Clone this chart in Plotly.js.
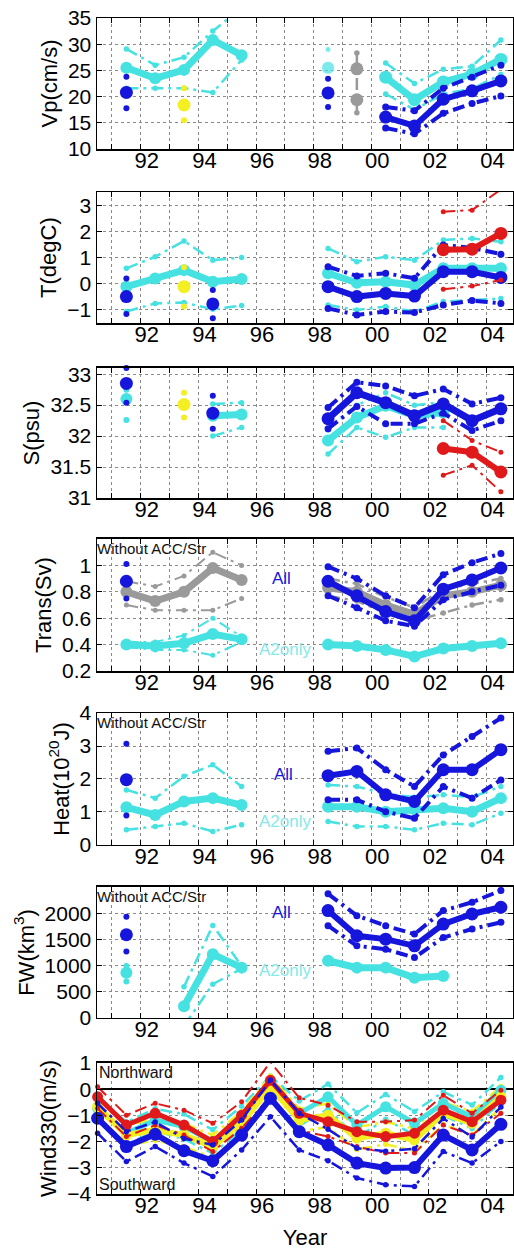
<!DOCTYPE html>
<html><head><meta charset="utf-8">
<script src="https://cdn.plot.ly/plotly-3.0.1.min.js"></script>
<style>html,body{margin:0;padding:0;background:#fff}#chart{width:514px;height:1250px}</style>
</head><body><div id="chart"></div>
<script>
// ---------- shared x values (decimal years) ----------
const yrsEarly = [1991.5, 1992.5, 1993.5, 1994.5, 1995.5];
const yrsLate = [1998.5, 1999.5, 2000.5, 2001.5, 2002.5, 2003.5, 2004.5];
const yrsLate5 = [2000.5, 2001.5, 2002.5, 2003.5, 2004.5];
const yrsCyanLate = [1998.5, 1999.5, 2000.5, 2001.5, 2002.5];
const yrsRed = [2002.5, 2003.5, 2004.5];
const yrsWind = [1990.5, 1991.5, 1992.5, 1993.5, 1994.5, 1995.5, 1996.5, 1997.5, 1998.5, 1999.5, 2000.5, 2001.5, 2002.5, 2003.5, 2004.5];
const xTickVals = [1991, 1992, 1993, 1994, 1995, 1996, 1997, 1998, 1999, 2000, 2001, 2002, 2003, 2004];
const xTickText = ['', '92', '', '94', '', '96', '', '98', '', '00', '', '02', '', '04'];

// ---------- panel 1: Vp ----------
const vpCyanEarly = [25.5, 23.5, 25.1, 30.8, 27.9];
const vpCyanEarlyHi = [29.1, 26.0, 27.5, 32.5, 37.0];
const vpCyanEarlyLo = [21.6, 21.6, 21.6, 20.8, 27.0];
const vpBlue91 = [20.8, 23.8, 17.8];      // value, hi, lo
const vpYellow93 = [18.4, 21.6, 15.5];
const vpCyan98 = [25.5, 29.0];
const vpBlue98 = [20.7, 23.4, 18.0];
const vpGray99 = [25.3, 19.4, 28.3, 16.9];
const vpBlueLate = [16.1, 14.4, 19.5, 21.1, 23.0];
const vpBlueLateHi = [18.0, 17.3, 21.6, 23.7, 26.0];
const vpBlueLateLo = [14.0, 12.9, 16.8, 18.7, 20.1];
const vpCyanLate = [23.7, 19.4, 22.8, 24.3, 27.1];
const vpCyanLateHi = [26.4, 22.5, 25.2, 25.8, 30.8];
const vpCyanLateLo = [20.5, 17.5, 20.5, 21.5, 24.2];

// ---------- panel 2: T ----------
const tCyanEarly = [-0.11, 0.2, 0.52, 0.08, 0.18];
const tCyanEarlyHi = [0.59, 1.03, 1.63, 0.9, 1.0];
const tCyanEarlyLo = [-1.06, -0.75, -0.72, -0.97, -0.83];
const tBlue91 = [-0.49, 0.2, -1.15];
const tYellow93 = [-0.11, 0.63, -0.87];
const tBlue94 = [-0.77, -0.24, -1.32];
const tBlueLate = [-0.11, -0.49, -0.37, -0.47, 0.46, 0.46, 0.24];
const tBlueLateHi = [0.65, 0.3, 0.4, 0.21, 1.48, 1.37, 1.13];
const tBlueLateLo = [-0.94, -1.19, -1.06, -1.1, -0.81, -0.64, -0.75];
const tCyanLate = [0.4, 0.04, 0.08, -0.05, 0.59, 0.59, 0.59];
const tCyanLateHi = [1.35, 0.84, 1.03, 0.9, 1.67, 1.73, 1.6];
const tCyanLateLo = [-0.81, -1.0, -0.87, -1.06, -0.68, -0.62, -0.56];
const tRed = [1.3, 1.32, 1.92];
const tRedHi = [2.75, 2.81, 3.6];
const tRedLo = [-0.21, -0.09, 0.14];

// ---------- panel 3: S ----------
const sBlue91 = [32.85, 33.1, 32.54];
const sCyan91 = [32.6, 32.75, 32.26];
const sYellow93 = [32.51, 32.7, 32.3];
const sBlue94 = [32.37, 32.65, 32.12];
const yrsSCyanEarly = [1994.5, 1995.5];
const sCyanEarly = [32.33, 32.35];
const sCyanEarlyHi = [32.52, 32.54];
const sCyanEarlyLo = [32.0, 32.14];
const sBlueLate = [32.28, 32.7, 32.54, 32.33, 32.52, 32.25, 32.44];
const sBlueLateHi = [32.46, 32.87, 32.81, 32.65, 32.76, 32.52, 32.62];
const sBlueLateLo = [32.12, 32.48, 32.2, 32.2, 32.37, 32.09, 32.25];
const sCyanLate = [31.93, 32.3, 32.49, 32.33, 32.38];
const sCyanLateHi = [32.1, 32.5, 32.7, 32.5, 32.55];
const sCyanLateLo = [31.71, 32.14, 31.98, 32.14, 32.14];
const sRed = [31.8, 31.74, 31.42];
const sRedHi = [32.25, 31.93, 31.74];
const sRedLo = [31.37, 31.53, 31.1];

// ---------- panel 4: Trans ----------
const trGrayEarly = [0.8, 0.73, 0.8, 0.98, 0.89];
const trGrayEarlyHi = [0.88, 0.84, 0.92, 1.1, 1.0];
const trGrayEarlyLo = [0.7, 0.66, 0.66, 0.66, 0.75];
const trBlue91 = [0.88, 1.01, 0.75];
const trCyanEarly = [0.4, 0.39, 0.41, 0.48, 0.44];
const trCyanEarlyHi = [0.42, 0.42, 0.47, 0.6, 0.46];
const trCyanEarlyLo = [0.38, 0.36, 0.36, 0.32, 0.42];
const trBlueLate = [0.88, 0.77, 0.65, 0.58, 0.82, 0.89, 0.98];
const trBlueLateHi = [0.99, 0.9, 0.77, 0.68, 0.93, 1.02, 1.09];
const trBlueLateLo = [0.77, 0.68, 0.58, 0.54, 0.74, 0.8, 0.85];
const trGrayLate = [0.83, 0.8, 0.7, 0.63, 0.77, 0.8, 0.85];
const trGrayLateHi = [0.9, 0.86, 0.76, 0.68, 0.82, 0.86, 0.9];
const trGrayLateLo = [0.77, 0.73, 0.64, 0.58, 0.64, 0.7, 0.74];
const trCyanLate = [0.4, 0.39, 0.36, 0.31, 0.37, 0.39, 0.41];

// ---------- panel 5: Heat ----------
const hBlue91 = [1.98, 3.07, 0.89];
const hCyanEarly = [1.14, 0.91, 1.32, 1.42, 1.21];
const hCyanEarlyHi = [1.67, 1.42, 2.08, 2.43, 1.77];
const hCyanEarlyLo = [0.46, 0.56, 0.66, 0.41, 0.61];
const hBlueLate = [2.1, 2.23, 1.52, 1.32, 2.28, 2.28, 2.89];
const hBlueLateHi = [2.84, 2.94, 2.28, 1.77, 2.73, 3.29, 3.85];
const hBlueLateLo = [1.37, 1.37, 1.01, 0.81, 1.77, 1.42, 1.97];
const hCyanLate = [1.16, 1.16, 1.01, 1.08, 1.11, 1.01, 1.42];
const hCyanLateHi = [1.82, 1.77, 1.55, 1.45, 1.52, 1.45, 1.77];
const hCyanLateLo = [0.71, 0.56, 0.56, 0.46, 0.66, 0.61, 0.96];

// ---------- panel 6: FW ----------
const fwBlue91 = [1600, 1948, 1278];
const fwCyan91 = [871, 1000, 700];
const yrsFwCyanEarly = [1993.5, 1994.5, 1995.5];
const fwCyanEarly = [226, 1226, 968];
const fwCyanEarlyHi = [600, 1780, 1000];
const fwCyanEarlyLo = [-150, 650, 950];
const fwBlueLate = [2065, 1581, 1516, 1387, 1806, 2000, 2129];
const fwBlueLateHi = [2387, 1968, 1774, 1613, 2065, 2226, 2452];
const fwBlueLateLo = [1774, 1387, 1323, 1161, 1548, 1710, 1839];
const fwCyanLate = [1100, 968, 968, 774, 806];

// ---------- panel 7: Wind330 ----------
const wBlue = [-1.11, -2.19, -1.72, -2.35, -2.73, -1.75, -0.35, -1.62, -2.13, -2.82, -3.01, -2.99, -1.75, -2.32, -1.34];
const wBlueLo = [-1.68, -2.76, -2.19, -2.82, -3.33, -2.32, -1.05, -2.32, -2.73, -3.39, -3.65, -3.71, -2.38, -2.82, -2.0];
const wBlueHi = [-0.54, -1.62, -1.25, -1.88, -2.13, -1.18, 0.35, -0.92, -1.53, -2.25, -2.37, -2.27, -1.12, -1.82, -0.68];
const wRed = [-0.29, -1.37, -0.92, -1.37, -2.0, -0.99, 0.34, -0.92, -1.24, -1.62, -1.81, -1.68, -0.8, -1.24, -0.42];
const wRedHi = [0.09, -0.99, -0.54, -0.8, -1.3, -0.48, 1.04, -0.33, -0.61, -1.24, -1.24, -1.18, -0.23, -0.92, -0.04];
const wRedLo = [-0.73, -1.81, -1.37, -1.75, -2.38, -1.49, -0.29, -1.56, -1.81, -2.19, -2.44, -2.44, -1.37, -1.75, -0.92];
const wYellow = [-0.67, -1.75, -1.56, -1.75, -2.19, -1.3, 0.09, -1.18, -0.99, -1.87, -1.68, -1.94, -0.92, -1.3, -0.29];
const wYellowHi = [-0.25, -1.35, -1.15, -1.3, -1.75, -0.85, 0.5, -0.75, -0.55, -1.45, -1.25, -1.5, -0.5, -0.85, 0.1];
const wYellowLo = [-1.1, -2.15, -1.95, -2.2, -2.6, -1.75, -0.35, -1.6, -1.45, -2.3, -2.1, -2.35, -1.35, -1.75, -0.7];
const wCyan = [-0.73, -1.68, -1.18, -1.43, -2.0, -1.11, 0.03, -0.92, -0.29, -1.37, -0.67, -1.3, -0.54, -1.05, -0.04];
const wCyanHi = [-0.3, -1.25, -0.75, -0.95, -1.55, -0.65, 0.5, -0.45, 0.2, -0.9, -0.2, -0.85, -0.1, -0.6, 0.45];
const wCyanLo = [-1.15, -2.1, -1.6, -1.9, -2.45, -1.55, -0.45, -1.4, -0.75, -1.85, -1.15, -1.75, -1.0, -1.5, -0.5];

// ---------- axis labels ----------
const yTitles = ['Vp(cm/s)', 'T(degC)', 'S(psu)', 'Trans(Sv)', 'Heat(10<sup>20</sup>J)', 'FW(km<sup>3</sup>)', 'Wind330(m/s)'];
const yRanges = [[10, 35], [-1.5, 3.5], [31, 33.1], [0.2, 1.2], [0, 4], [0, 2520], [-4, 1]];
const yTickVals = [
  [10, 15, 20, 25, 30, 35], [-1, 0, 1, 2, 3], [31, 31.5, 32, 32.5, 33],
  [0.2, 0.4, 0.6, 0.8, 1], [0, 1, 2, 3, 4], [0, 500, 1000, 1500, 2000], [-4, -3, -2, -1, 0, 1]];
const yTickText = [
  ['10', '15', '20', '25', '30', '35'], ['\u22121', '0', '1', '2', '3'], ['31', '31.5', '32', '32.5', '33'],
  ['0.2', '0.4', '0.6', '0.8', '1'], ['0', '1', '2', '3', '4'], ['0', '500', '1000', '1500', '2000'],
  ['\u22124', '\u22123', '\u22122', '\u22121', '0', '1']];

// ---------- styling ----------
const COL = {blue: '#1515dc', cyan: '#46e2e2', gray: '#9a9a9a', yellow: '#f3ef22', red: '#e01a1a'};
const DD = '12px,5px,3px,5px';
const traces = [];
function ax(n) { return n === 1 ? '' : String(n); }
function line(n, x, y, color, w, ms) {
  traces.push({type: 'scatter', mode: 'lines+markers', x: x, y: y, xaxis: 'x' + ax(n), yaxis: 'y' + ax(n),
    line: {color: color, width: w}, marker: {color: color, size: ms}, hoverinfo: 'skip', showlegend: false});
}
function bound(n, x, y, color, w) {
  traces.push({type: 'scatter', mode: 'lines+markers', x: x, y: y, xaxis: 'x' + ax(n), yaxis: 'y' + ax(n),
    line: {color: color, width: w, dash: DD}, marker: {color: color, size: w + 3}, hoverinfo: 'skip', showlegend: false});
}
function pt(n, xv, vals, color, big) {
  // vals: [value, hi, lo]
  traces.push({type: 'scatter', mode: 'markers', x: [xv, xv], y: [vals[1], vals[2]], xaxis: 'x' + ax(n), yaxis: 'y' + ax(n),
    marker: {color: color, size: 6}, hoverinfo: 'skip', showlegend: false, cliponaxis: false});
  traces.push({type: 'scatter', mode: 'markers', x: [xv], y: [vals[0]], xaxis: 'x' + ax(n), yaxis: 'y' + ax(n),
    marker: {color: color, size: big}, hoverinfo: 'skip', showlegend: false, cliponaxis: false});
}

// panel 1
bound(1, yrsEarly, vpCyanEarlyHi, COL.cyan, 2.5);
bound(1, yrsEarly, vpCyanEarlyLo, COL.cyan, 2.5);
line(1, yrsEarly, vpCyanEarly, COL.cyan, 7, 12);
bound(1, yrsLate5, vpCyanLateHi, COL.cyan, 2.5);
bound(1, yrsLate5, vpCyanLateLo, COL.cyan, 2.5);
line(1, yrsLate5, vpCyanLate, COL.cyan, 7, 13);
bound(1, yrsLate5, vpBlueLateHi, COL.blue, 4);
bound(1, yrsLate5, vpBlueLateLo, COL.blue, 4);
line(1, yrsLate5, vpBlueLate, COL.blue, 6, 13);
pt(1, 1991.5, vpBlue91, COL.blue, 13);
pt(1, 1993.5, vpYellow93, COL.yellow, 13);
traces.push({type: 'scatter', mode: 'markers', x: [1998.5, 1998.5], y: vpCyan98, xaxis: 'x', yaxis: 'y',
  marker: {color: COL.cyan, size: [13, 6]}, hoverinfo: 'skip', showlegend: false});
pt(1, 1998.5, vpBlue98, COL.blue, 13);
bound(1, [1999.5, 1999.5], [vpGray99[2], vpGray99[3]], COL.gray, 2.5);
traces.push({type: 'scatter', mode: 'markers', x: [1999.5, 1999.5], y: [vpGray99[0], vpGray99[1]], xaxis: 'x', yaxis: 'y',
  marker: {color: COL.gray, size: 13}, hoverinfo: 'skip', showlegend: false});

// panel 2
bound(2, yrsEarly, tCyanEarlyHi, COL.cyan, 2.5);
bound(2, yrsEarly, tCyanEarlyLo, COL.cyan, 2.5);
line(2, yrsEarly, tCyanEarly, COL.cyan, 7, 12);
pt(2, 1991.5, tBlue91, COL.blue, 13);
pt(2, 1993.5, tYellow93, COL.yellow, 13);
pt(2, 1994.5, tBlue94, COL.blue, 13);
bound(2, yrsLate, tCyanLateHi, COL.cyan, 2.5);
bound(2, yrsLate, tCyanLateLo, COL.cyan, 2.5);
line(2, yrsLate, tCyanLate, COL.cyan, 7, 12);
bound(2, yrsLate, tBlueLateHi, COL.blue, 4);
bound(2, yrsLate, tBlueLateLo, COL.blue, 4);
line(2, yrsLate, tBlueLate, COL.blue, 6, 13);
bound(2, yrsRed, tRedHi, COL.red, 2);
bound(2, yrsRed, tRedLo, COL.red, 2);
line(2, yrsRed, tRed, COL.red, 6, 13);

// panel 3
pt(3, 1991.5, sCyan91, COL.cyan, 12);
pt(3, 1991.5, sBlue91, COL.blue, 13);
pt(3, 1993.5, sYellow93, COL.yellow, 13);
bound(3, yrsSCyanEarly, sCyanEarlyHi, COL.cyan, 2.5);
bound(3, yrsSCyanEarly, sCyanEarlyLo, COL.cyan, 2.5);
line(3, yrsSCyanEarly, sCyanEarly, COL.cyan, 7, 12);
pt(3, 1994.5, sBlue94, COL.blue, 13);
bound(3, yrsCyanLate, sCyanLateHi, COL.cyan, 2.5);
bound(3, yrsCyanLate, sCyanLateLo, COL.cyan, 2.5);
line(3, yrsCyanLate, sCyanLate, COL.cyan, 7, 12);
bound(3, yrsLate, sBlueLateHi, COL.blue, 4);
bound(3, yrsLate, sBlueLateLo, COL.blue, 4);
line(3, yrsLate, sBlueLate, COL.blue, 7, 13);
bound(3, yrsRed, sRedHi, COL.red, 2);
bound(3, yrsRed, sRedLo, COL.red, 2);
line(3, yrsRed, sRed, COL.red, 6, 13);

// panel 4
bound(4, yrsEarly, trCyanEarlyHi, COL.cyan, 2);
bound(4, yrsEarly, trCyanEarlyLo, COL.cyan, 2);
line(4, yrsEarly, trCyanEarly, COL.cyan, 7, 12);
bound(4, yrsEarly, trGrayEarlyHi, COL.gray, 2);
bound(4, yrsEarly, trGrayEarlyLo, COL.gray, 2);
line(4, yrsEarly, trGrayEarly, COL.gray, 7, 12);
pt(4, 1991.5, trBlue91, COL.blue, 13);
line(4, yrsLate, trCyanLate, COL.cyan, 7, 12);
bound(4, yrsLate, trGrayLateHi, COL.gray, 2.5);
bound(4, yrsLate, trGrayLateLo, COL.gray, 2.5);
line(4, yrsLate, trGrayLate, COL.gray, 7, 12);
bound(4, yrsLate, trBlueLateHi, COL.blue, 4);
bound(4, yrsLate, trBlueLateLo, COL.blue, 4);
line(4, yrsLate, trBlueLate, COL.blue, 6, 13);

// panel 5
bound(5, yrsEarly, hCyanEarlyHi, COL.cyan, 2.5);
bound(5, yrsEarly, hCyanEarlyLo, COL.cyan, 2.5);
line(5, yrsEarly, hCyanEarly, COL.cyan, 7, 12);
pt(5, 1991.5, hBlue91, COL.blue, 13);
bound(5, yrsLate, hCyanLateHi, COL.cyan, 2.5);
bound(5, yrsLate, hCyanLateLo, COL.cyan, 2.5);
line(5, yrsLate, hCyanLate, COL.cyan, 7, 12);
bound(5, yrsLate, hBlueLateHi, COL.blue, 4);
bound(5, yrsLate, hBlueLateLo, COL.blue, 4);
line(5, yrsLate, hBlueLate, COL.blue, 6, 13);

// panel 6
pt(6, 1991.5, fwCyan91, COL.cyan, 12);
pt(6, 1991.5, fwBlue91, COL.blue, 13);
bound(6, yrsFwCyanEarly, fwCyanEarlyHi, COL.cyan, 2.5);
bound(6, yrsFwCyanEarly, fwCyanEarlyLo, COL.cyan, 2.5);
line(6, yrsFwCyanEarly, fwCyanEarly, COL.cyan, 7, 12);
line(6, yrsCyanLate, fwCyanLate, COL.cyan, 7, 12);
bound(6, yrsLate, fwBlueLateHi, COL.blue, 4);
bound(6, yrsLate, fwBlueLateLo, COL.blue, 4);
line(6, yrsLate, fwBlueLate, COL.blue, 6, 13);

// panel 7
bound(7, yrsWind, wCyanHi, COL.cyan, 2.5);
bound(7, yrsWind, wCyanLo, COL.cyan, 2.5);
bound(7, yrsWind, wYellowHi, COL.yellow, 2.5);
bound(7, yrsWind, wYellowLo, COL.yellow, 2.5);
line(7, yrsWind, wCyan, COL.cyan, 5, 11);
line(7, yrsWind, wYellow, COL.yellow, 6, 11);
bound(7, yrsWind, wRedHi, COL.red, 2);
bound(7, yrsWind, wRedLo, COL.red, 2);
line(7, yrsWind, wRed, COL.red, 5, 11);
bound(7, yrsWind, wBlueHi, COL.blue, 2.5);
bound(7, yrsWind, wBlueLo, COL.blue, 2.5);
line(7, yrsWind, wBlue, COL.blue, 6, 13);
traces.forEach(function (t) { if (t.xaxis === 'x7') t.cliponaxis = false; });

// ---------- layout ----------
const FONT = 'Liberation Sans, Arial, Helvetica, sans-serif';
const domains = [[0.8886, 1.0], [0.7406, 0.8520], [0.5918, 0.7024], [0.4447, 0.5570], [0.2968, 0.4090], [0.1497, 0.2611], [0.0, 0.1114]];
const layout = {
  width: 514, height: 1250,
  margin: {l: 97, r: 1, t: 18, b: 56},
  paper_bgcolor: '#fff', plot_bgcolor: '#fff',
  font: {family: FONT, size: 21, color: '#000'},
  showlegend: false,
  annotations: [], shapes: []
};
for (let i = 1; i <= 7; i++) {
  const s = ax(i);
  layout['xaxis' + s] = {
    domain: [0, 1], anchor: 'y' + s, range: [1990.48, 2004.92],
    tickmode: 'array', tickvals: xTickVals, ticktext: xTickText,
    ticks: 'inside', ticklen: 5, tickwidth: 1, tickcolor: '#000',
    showline: true, linecolor: '#000', linewidth: 1.5, mirror: 'ticks',
    showgrid: true, gridcolor: '#8a8a8a', griddash: 'dot', gridwidth: 1,
    zeroline: false, tickfont: {size: 22, family: FONT}, ticklabelshift: 6, ticklabelstandoff: -9,
    fixedrange: true
  };
  layout['yaxis' + s] = {
    domain: domains[i - 1], anchor: 'x' + s, range: yRanges[i - 1],
    tickmode: 'array', tickvals: yTickVals[i - 1], ticktext: yTickText[i - 1],
    ticks: 'inside', ticklen: 5, tickwidth: 1, tickcolor: '#000',
    showline: true, linecolor: '#000', linewidth: 1.5, mirror: 'ticks',
    showgrid: true, gridcolor: '#8a8a8a', griddash: 'dot', gridwidth: 1,
    zeroline: i === 7, zerolinecolor: '#000', zerolinewidth: 2.5,
    tickfont: {size: 21, family: FONT},
    title: {text: yTitles[i - 1], font: {size: 22, family: FONT}, standoff: 4},
    fixedrange: true
  };
}
layout.xaxis7.title = {text: 'Year', font: {size: 22, family: FONT}, standoff: 12};

// text labels
[4, 5, 6].forEach(function (i) {
  layout.annotations.push({text: 'Without ACC/Str', xref: 'x' + i + ' domain', yref: 'y' + i + ' domain', x: 0, y: 1,
    xanchor: 'left', yanchor: 'top', showarrow: false, font: {size: 15, family: FONT, color: '#111'}, xshift: -2, yshift: 1});
});
const allPos = [[4, 1996.9, 0.9], [5, 1996.95, 2.13], [6, 1996.9, 2030]];
allPos.forEach(function (p) {
  layout.annotations.push({text: 'All', xref: 'x' + p[0], yref: 'y' + p[0], x: p[1], y: p[2], showarrow: false,
    font: {size: 17, family: FONT, color: COL.blue}});
});
const a2Pos = [[4, 1997.0, 0.36], [5, 1997.0, 0.71], [6, 1997.0, 916]];
a2Pos.forEach(function (p) {
  layout.annotations.push({text: 'A2only', xref: 'x' + p[0], yref: 'y' + p[0], x: p[1], y: p[2], showarrow: false,
    font: {size: 17, family: FONT, color: '#86e8e8'}});
});
layout.annotations.push({text: 'Northward', xref: 'x7 domain', yref: 'y7 domain', x: 0, y: 1, xanchor: 'left', yanchor: 'top',
  showarrow: false, font: {size: 16, family: FONT, color: '#111'}, yshift: 1});
layout.annotations.push({text: 'Southward', xref: 'x7 domain', yref: 'y7 domain', x: 0, y: 0, xanchor: 'left', yanchor: 'bottom',
  showarrow: false, font: {size: 16, family: FONT, color: '#111'}, yshift: -1});

Plotly.newPlot('chart', traces, layout, {staticPlot: true, displayModeBar: false});
</script></body></html>
